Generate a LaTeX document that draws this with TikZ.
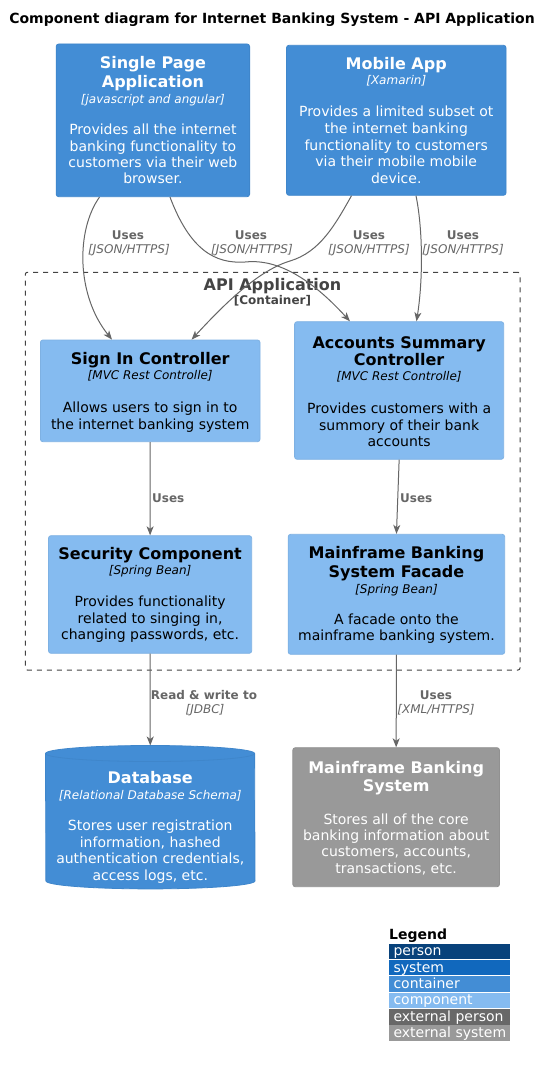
\documentclass[tikz,border=0pt]{standalone}
\usepackage{fontspec}
\setmainfont{DejaVu Sans}
\usetikzlibrary{arrows.meta}
\definecolor{contfill}{HTML}{438DD5}
\definecolor{contline}{HTML}{3F86CB}
\definecolor{compfill}{HTML}{85BBF0}
\definecolor{compline}{HTML}{7EB1E3}
\definecolor{extfill}{HTML}{999999}
\definecolor{extline}{HTML}{919191}
\definecolor{relcol}{HTML}{666666}
\definecolor{boundcol}{HTML}{444444}
\definecolor{persfill}{HTML}{08427B}
\definecolor{sysfill}{HTML}{1168BD}
\definecolor{extpers}{HTML}{686868}
\newcommand\fsz[2]{\fontsize{#1}{#2}\selectfont}
\tikzset{
 box/.style={rectangle, rounded corners=2.5pt, line width=0.8pt, inner sep=0pt},
 contbox/.style={box, fill=contfill, draw=contline},
 compbox/.style={box, fill=compfill, draw=compline},
 extbox/.style={box, fill=extfill, draw=extline},
 ttl/.style={font=\fsz{16}{19}\bfseries, inner sep=0pt, anchor=base},
 tech/.style={font=\fsz{12}{14}\itshape, inner sep=0pt, anchor=base},
 desc/.style={font=\fsz{14}{16}, inner sep=0pt, anchor=base},
 rel/.style={draw=relcol, line width=1pt, -{Stealth[length=9pt,width=7pt,inset=2.5pt]}},
 rlab/.style={font=\fsz{12}{14}\bfseries, text=relcol, inner sep=0pt, anchor=base},
 rtech/.style={font=\fsz{12}{14}\itshape, text=relcol, inner sep=0pt, anchor=base},
}
\newcommand\txtlines[6]{%
 \foreach \mytext [count=\k] in {#6} {\node[#5] (#1-\k) at (#2, {#3+(\k-1)*#4}) {\mytext};}}
\begin{document}
\begin{tikzpicture}[x=1pt,y=-1pt]
\useasboundingbox (0,0) rectangle (551,1065);
\fill[white] (0,0) rectangle (551,1065);

\node[font=\fsz{14}{16}\bfseries, anchor=base, inner sep=0pt] (title) at (272,23.3) {Component diagram for Internet Banking System - API Application};

% boundary
\node[draw=boundcol, dash pattern=on 5pt off 5pt, line width=1pt, rounded corners=2pt, minimum width=494.7, minimum height=397.7, inner sep=0pt] (api) at (272.65,471.15) {};
\node[font=\fsz{16}{19}\bfseries, text=boundcol, anchor=base, inner sep=0pt] (apit) at (272.5,290) {API Application};
\node[font=\fsz{12}{14}\bfseries, text=boundcol, anchor=base, inner sep=0pt] (apis) at (272.5,304.3) {[Container]};

% boxes
\node[contbox, minimum width=193.4, minimum height=152.7] (spa) at (152.9,120.35) {};
\node[contbox, minimum width=219.5, minimum height=150] (mobile) at (396.25,120.3) {};
\node[compbox, minimum width=219.6, minimum height=101.7] (signin) at (150.2,390.85) {};
\node[compbox, minimum width=209.1, minimum height=137.6] (accounts) at (399.15,390.5) {};
\node[compbox, minimum width=203.2, minimum height=117.6] (security) at (150.1,594.5) {};
\node[compbox, minimum width=216.5, minimum height=120] (facade) at (396.45,594.3) {};
\node[extbox, minimum width=206.7, minimum height=139] (mainframe) at (396.15,817.2) {};
\node[minimum width=209.1, minimum height=143, inner sep=0pt] (db) at (150.25,817.2) {};
\path[fill=contfill, draw=contline, line width=0.8pt] ([yshift=-8pt]db.north west) arc[start angle=180,end angle=0,x radius=104.55pt,y radius=8pt] -- ([yshift=8pt]db.south east) arc[start angle=0,end angle=-180,x radius=104.55pt,y radius=8pt] -- cycle;
\draw[contline, line width=0.8pt] ([yshift=-8pt]db.north west) arc[start angle=180,end angle=360,x radius=104.55pt,y radius=8pt];

% texts
\txtlines{spa-t}{152.9}{68.9}{18.7}{ttl,text=white}{Single Page,Application}
\txtlines{spa-k}{152.9}{103.2}{0}{tech,text=white}{[javascript and angular]}
\txtlines{spa-d}{152.9}{134.9}{16.35}{desc,text=white}{Provides all the internet,banking functionality to,customers via their web,browser.}

\txtlines{mob-t}{396.25}{69.9}{18.7}{ttl,text=white}{Mobile App}
\txtlines{mob-k}{396.25}{84.9}{0}{tech,text=white}{[Xamarin]}
\txtlines{mob-d}{396.25}{116.9}{16.55}{desc,text=white}{Provides a limited subset ot,the internet banking,functionality to customers,via their mobile mobile,device.}

\txtlines{sig-t}{150.2}{364.9}{18.7}{ttl}{Sign In Controller}
\txtlines{sig-k}{150.2}{379.9}{0}{tech}{[MVC Rest Controlle]}
\txtlines{sig-d}{150.2}{412.2}{17}{desc}{Allows users to sign in to,the internet banking system}

\txtlines{acc-t}{399.15}{348.3}{17.3}{ttl}{Accounts Summary,Controller}
\txtlines{acc-k}{399.15}{380.9}{0}{tech}{[MVC Rest Controlle]}
\txtlines{acc-d}{399.15}{413.9}{16.15}{desc}{Provides customers with a,summory of their bank,accounts}

\txtlines{sec-t}{150.1}{559.9}{18.7}{ttl}{Security Component}
\txtlines{sec-k}{150.1}{574.9}{0}{tech}{[Spring Bean]}
\txtlines{sec-d}{150.1}{606.9}{16.5}{desc}{Provides functionality,{related to singing in,},{changing passwords, etc.}}

\txtlines{fac-t}{396.45}{558.9}{19}{ttl}{Mainframe Banking,System Facade}
\txtlines{fac-k}{396.45}{593.2}{0}{tech}{[Spring Bean]}
\txtlines{fac-d}{396.45}{624.9}{16}{desc}{A facade onto the,mainframe banking system.}

\txtlines{db-t}{150.25}{783.9}{18.7}{ttl,text=white}{Database}
\txtlines{db-k}{150.25}{799.2}{0}{tech,text=white}{[Relational Database Schema]}
\txtlines{db-d}{150.25}{830.9}{16.5}{desc,text=white}{Stores user registration,{information, hashed},{authentication credentials,},{access logs, etc.}}

\txtlines{mf-t}{396.15}{773.3}{18.3}{ttl,text=white}{Mainframe Banking,System}
\txtlines{mf-d}{396.15}{824.2}{16.3}{desc,text=white}{Stores all of the core,banking information about,{customers, accounts,},{transactions, etc.}}

% connectors
\draw[rel] ([xshift=-53.4pt]spa.south) .. controls (76,230) and (76,295) .. ([xshift=-38.2pt]signin.north);
\draw[rel] ([xshift=17.1pt]spa.south) .. controls (190,250) and (215,264) .. (245,262) .. controls (272,259) and (305,272) .. ([xshift=-49.2pt]accounts.north);
\draw[rel] ([xshift=-44.75pt]mobile.south) .. controls (335,225) and (320,252) .. (290,261) .. controls (260,270) and (228,300) .. ([xshift=41.4pt]signin.north);
\draw[rel] ([xshift=19.75pt]mobile.south) .. controls (423,230) and (423,280) .. ([xshift=17.35pt]accounts.north);
\draw[rel] (signin.south) -- (security.north);
\draw[rel] (accounts.south) -- (facade.north);
\draw[rel] (security.south) -- (db.north);
\draw[rel] (facade.south) -- (mainframe.north);

% connector labels
\node[rlab] (l1a) at (128,239.3) {Uses};
\node[rtech] (l1b) at (129,253.3) {[JSON/HTTPS]};
\node[rlab] (l2a) at (251,239.3) {Uses};
\node[rtech] (l2b) at (252,253.3) {[JSON/HTTPS]};
\node[rlab] (l3a) at (369,239.3) {Uses};
\node[rtech] (l3b) at (369,253.3) {[JSON/HTTPS]};
\node[rlab] (l4a) at (463,239.3) {Uses};
\node[rtech] (l4b) at (463,253.3) {[JSON/HTTPS]};
\node[rlab, anchor=base west] (l5a) at (152,502) {Uses};
\node[rlab, anchor=base west] (l6a) at (400,502) {Uses};
\node[rlab] (l7a) at (204,699.3) {Read \& write to};
\node[rtech] (l7b) at (205,713.3) {[JDBC]};
\node[rlab] (l8a) at (436,699.3) {Uses};
\node[rtech] (l8b) at (436,713.3) {[XML/HTTPS]};

% legend
\node[font=\fsz{14}{16}\bfseries, anchor=base west, inner sep=0pt] (legend) at (389,939.5) {Legend};
\foreach \c/\t [count=\i] in {persfill/person, sysfill/system, contfill/container, compfill/component, extpers/external person, extfill/external system} {
 \node[fill=\c, minimum width=121, minimum height=15.6, inner sep=0pt, anchor=north west] (leg\i) at (389,{943.3+(\i-1)*16.35}) {};
 \node[font=\fsz{14}{16}, text=white, anchor=base west, inner sep=0pt] (legt\i) at (393.3,{943.3+(\i-1)*16.35+12.4}) {\t};
}
\end{tikzpicture}
\end{document}
